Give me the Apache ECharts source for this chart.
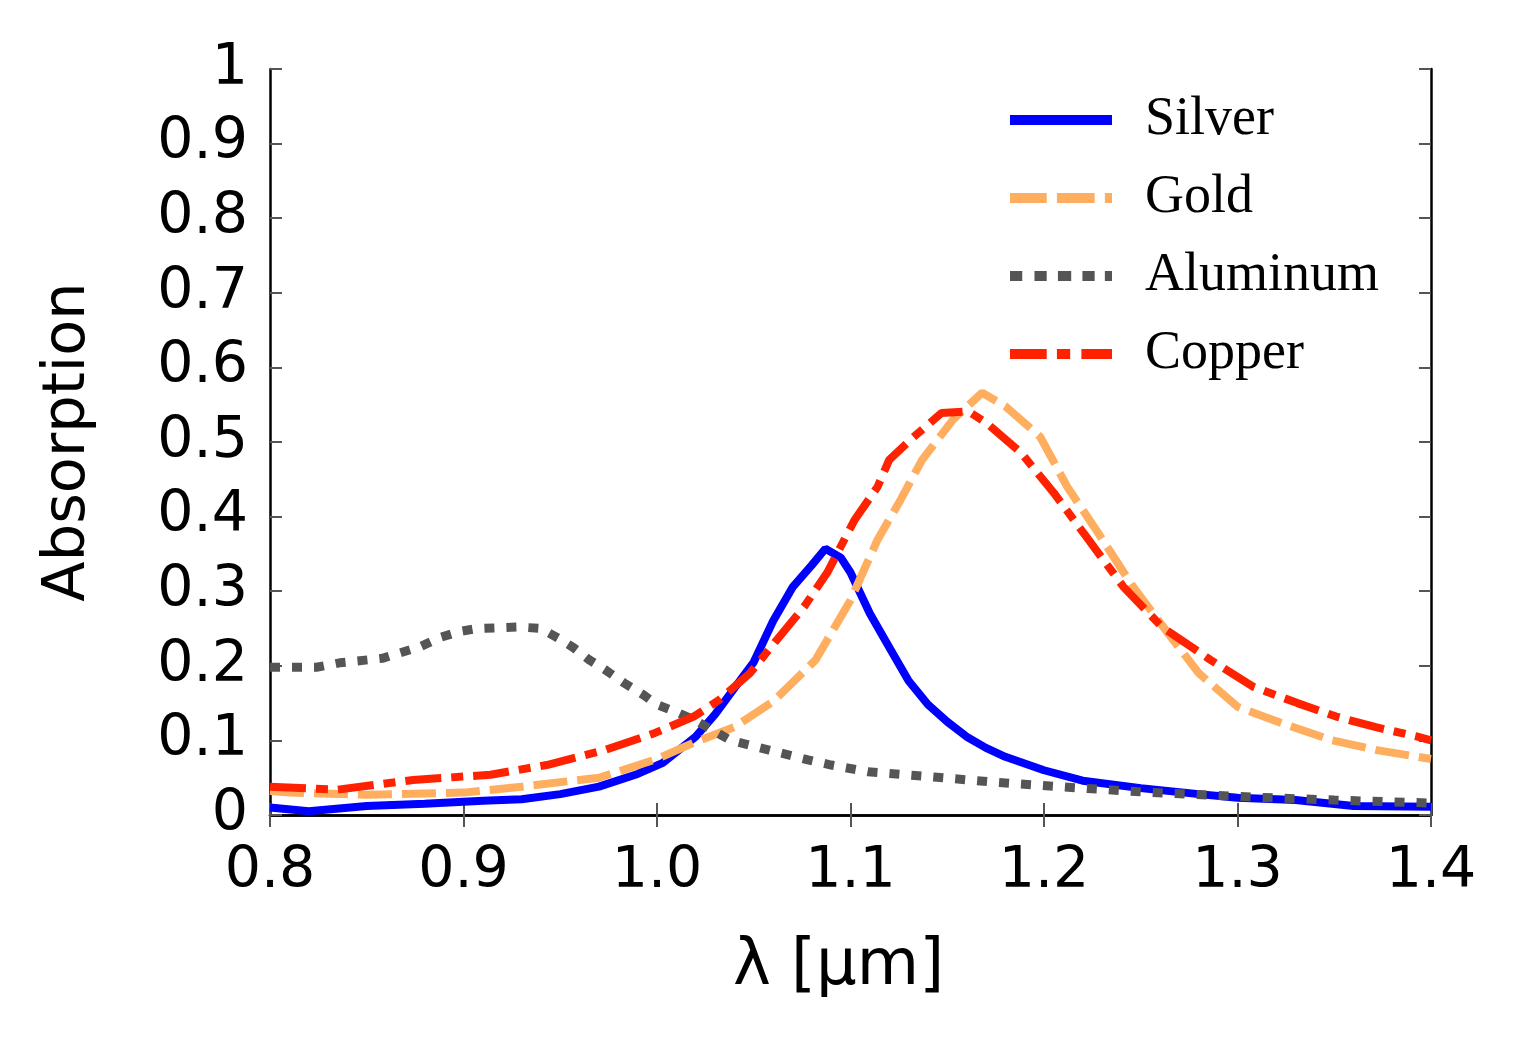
<!DOCTYPE html>
<html>
<head>
<meta charset="utf-8">
<script src="https://cdn.jsdelivr.net/npm/echarts@6/dist/echarts.min.js"></script>
<style>
html,body{margin:0;padding:0;background:#fff;}
#chart{width:1516px;height:1043px;}
</style>
</head>
<body>
<div id="chart"></div>
<script>
// Data
const seriesNames = ['Silver', 'Gold', 'Aluminum', 'Copper'];

const silverX = [0.80, 0.82, 0.85, 0.88, 0.91, 0.93, 0.95, 0.97, 0.99, 1.003, 1.02, 1.03, 1.04, 1.05, 1.06, 1.07, 1.08, 1.087, 1.095, 1.10, 1.11, 1.12, 1.13, 1.14, 1.15, 1.16, 1.17, 1.18, 1.20, 1.22, 1.25, 1.28, 1.30, 1.33, 1.36, 1.40];
const silverY = [0.010, 0.005, 0.012, 0.015, 0.019, 0.021, 0.028, 0.038, 0.055, 0.070, 0.105, 0.135, 0.170, 0.205, 0.260, 0.305, 0.335, 0.357, 0.345, 0.325, 0.270, 0.225, 0.180, 0.148, 0.125, 0.105, 0.090, 0.078, 0.060, 0.046, 0.036, 0.028, 0.023, 0.020, 0.012, 0.011];

const goldX = [0.80, 0.81, 0.85, 0.90, 0.93, 0.97, 1.00, 1.02, 1.04, 1.06, 1.082, 1.10, 1.114, 1.126, 1.137, 1.153, 1.168, 1.18, 1.198, 1.212, 1.228, 1.246, 1.264, 1.28, 1.30, 1.323, 1.349, 1.372, 1.40];
const goldY = [0.032, 0.030, 0.027, 0.030, 0.038, 0.050, 0.075, 0.098, 0.118, 0.152, 0.208, 0.288, 0.369, 0.423, 0.476, 0.530, 0.566, 0.548, 0.507, 0.440, 0.378, 0.306, 0.244, 0.190, 0.145, 0.123, 0.100, 0.087, 0.075];

const aluminumX = [0.80, 0.824, 0.836, 0.858, 0.878, 0.888, 0.898, 0.907, 0.929, 0.94, 0.949, 0.957, 0.965, 0.973, 0.983, 0.993, 1.00, 1.011, 1.021, 1.038, 1.058, 1.078, 1.09, 1.109, 1.143, 1.174, 1.208, 1.25, 1.308, 1.35, 1.40];
const aluminumY = [0.198, 0.198, 0.204, 0.210, 0.226, 0.238, 0.246, 0.250, 0.252, 0.250, 0.237, 0.224, 0.208, 0.195, 0.177, 0.161, 0.148, 0.137, 0.125, 0.100, 0.087, 0.074, 0.067, 0.058, 0.051, 0.044, 0.038, 0.031, 0.024, 0.020, 0.016];

const copperX = [0.80, 0.835, 0.874, 0.914, 0.943, 0.973, 0.999, 1.019, 1.032, 1.048, 1.062, 1.076, 1.088, 1.102, 1.114, 1.12, 1.131, 1.147, 1.161, 1.17, 1.188, 1.205, 1.223, 1.241, 1.261, 1.286, 1.308, 1.331, 1.351, 1.371, 1.393, 1.40];
const copperY = [0.038, 0.034, 0.047, 0.054, 0.067, 0.087, 0.110, 0.132, 0.154, 0.190, 0.235, 0.279, 0.325, 0.395, 0.440, 0.476, 0.503, 0.539, 0.541, 0.526, 0.486, 0.432, 0.369, 0.306, 0.252, 0.208, 0.172, 0.150, 0.132, 0.118, 0.105, 0.100];

const xTicks = [0.8, 0.9, 1.0, 1.1, 1.2, 1.3, 1.4];
const yTicks = [0, 0.1, 0.2, 0.3, 0.4, 0.5, 0.6, 0.7, 0.8, 0.9, 1];

const pair = (xs, ys) => xs.map((x, i) => [x, ys[i]]);

const chart = echarts.init(document.getElementById('chart'), null, {renderer: 'canvas'});

const tickFont = 'DejaVu Sans';
const frameLine = {show: true, lineStyle: {color: '#000', width: 2.5}};
const inTick = {show: true, inside: true, length: 12, lineStyle: {color: '#555', width: 2}};

// legend sample icons (solid, dashed, dotted, dash-dot)
const legendIcons = {
  Silver: 'path://M0,0H100V10H0Z',
  Gold: 'path://M0,0H36V10H0Z M46,0H83V10H46Z M93,0H100V10H93Z',
  Aluminum: 'path://M0,0H12V10H0Z M24,0H36V10H24Z M47,0H60V10H47Z M71,0H83V10H71Z M93,0H100V10H93Z',
  Copper: 'path://M0,0H36V10H0Z M46,0H59V10H46Z M70,0H100V10H70Z'
};

const commonLine = {type: 'line', showSymbol: false, symbol: 'none', smooth: false};

chart.setOption({
  backgroundColor: '#fff',
  animation: false,
  grid: {left: 270, right: 85, top: 69, bottom: 228, containLabel: false},
  legend: {
    orient: 'vertical',
    left: 1010,
    top: 90,
    padding: 0,
    itemWidth: 102,
    itemHeight: 11,
    itemGap: 18,
    data: seriesNames.map(n => ({name: n, icon: legendIcons[n]})),
    textStyle: {fontFamily: 'Liberation Serif', fontSize: 54, color: '#000', lineHeight: 60, padding: [0, 0, 0, 28]}
  },
  xAxis: [{
    type: 'value',
    min: xTicks[0], max: xTicks[xTicks.length - 1], interval: 0.1,
    position: 'bottom',
    axisLine: frameLine,
    axisTick: inTick,
    splitLine: {show: false},
    axisLabel: {fontFamily: tickFont, fontSize: 57, color: '#000', margin: 29,
      formatter: v => v.toFixed(1)},
    name: 'λ [μm]',
    nameLocation: 'middle',
    nameGap: 120,
    nameTextStyle: {fontFamily: tickFont, fontSize: 64, color: '#000', padding: [0, 24, 0, 0]}
  }, {
    type: 'value',
    min: xTicks[0], max: xTicks[xTicks.length - 1], interval: 0.1,
    position: 'top',
    axisLine: frameLine,
    axisTick: inTick,
    splitLine: {show: false},
    axisLabel: {show: false}
  }],
  yAxis: [{
    type: 'value',
    min: 0, max: 1, interval: 0.1,
    position: 'left',
    axisLine: frameLine,
    axisTick: inTick,
    splitLine: {show: false},
    axisLabel: {fontFamily: tickFont, fontSize: 57, color: '#000', margin: 22},
    name: 'Absorption',
    nameLocation: 'middle',
    nameRotate: 90,
    nameGap: 172,
    nameTextStyle: {fontFamily: tickFont, fontSize: 59, color: '#000'}
  }, {
    type: 'value',
    min: 0, max: 1, interval: 0.1,
    position: 'right',
    axisLine: frameLine,
    axisTick: inTick,
    splitLine: {show: false},
    axisLabel: {show: false}
  }],
  series: [
    Object.assign({name: 'Silver', data: pair(silverX, silverY),
      lineStyle: {color: '#0000ff', width: 8, type: 'solid'}, itemStyle: {color: '#0000ff'}}, commonLine),
    Object.assign({name: 'Gold', data: pair(goldX, goldY),
      lineStyle: {color: '#ffad5e', width: 8, type: [34, 10], cap: 'butt'}, itemStyle: {color: '#ffad5e'}}, commonLine),
    Object.assign({name: 'Aluminum', data: pair(aluminumX, aluminumY),
      lineStyle: {color: '#555555', width: 9, type: [10, 12], cap: 'butt'}, itemStyle: {color: '#555555'}}, commonLine),
    Object.assign({name: 'Copper', data: pair(copperX, copperY),
      lineStyle: {color: '#ff2200', width: 8, type: [36, 10, 12, 10], cap: 'butt'}, itemStyle: {color: '#ff2200'}}, commonLine)
  ]
});
</script>
</body>
</html>
